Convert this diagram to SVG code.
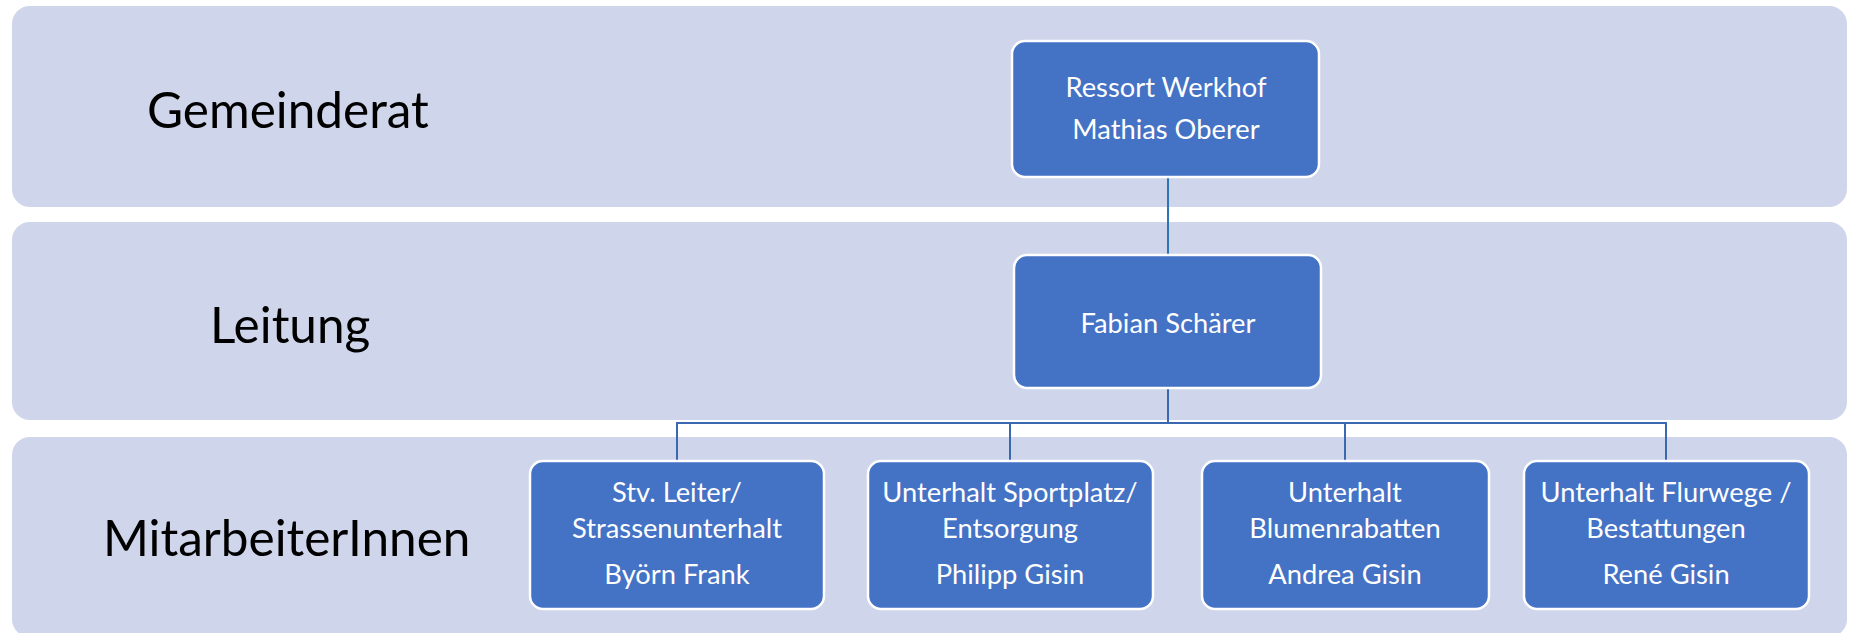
<svg xmlns="http://www.w3.org/2000/svg" width="1854" height="633" viewBox="0 0 1854 633">
<style>
.band{fill:#CFD5EA;}
.box{fill:#4472C4;stroke:#FFFFFF;stroke-width:2.5;}
.lbl{font-family:Lato,"Liberation Sans",sans-serif;font-size:49.5px;fill:#000000;}
.t{font-family:Lato,"Liberation Sans",sans-serif;font-size:27.3px;fill:#FFFFFF;text-anchor:middle;}
.c1{stroke:#2E75B6;stroke-width:2;fill:none;}
.c2{stroke:#3C67B1;stroke-width:2;fill:none;}
</style>
<rect width="1854" height="633" fill="#FFFFFF"/>
<g id="band-gemeinderat">
<rect class="band" x="12" y="6" width="1835" height="201" rx="18"/>
<text class="lbl" x="147" y="128">Gemeinderat</text>
</g>
<g id="band-leitung">
<rect class="band" x="12" y="222" width="1835" height="198" rx="18"/>
<text class="lbl" x="210" y="343">Leitung</text>
</g>
<g id="band-mitarbeiter">
<rect class="band" x="12" y="437" width="1835" height="200" rx="18"/>
<text class="lbl" x="103" y="556">MitarbeiterInnen</text>
</g>
<g id="connectors">
<line class="c1" x1="1168" y1="177" x2="1168" y2="255"/>
<polyline class="c2" points="1168,388 1168,423 677,423 677,461"/>
<polyline class="c2" points="1168,423 1666,423 1666,461"/>
<line class="c2" x1="1010" y1="423" x2="1010" y2="461"/>
<line class="c2" x1="1345" y1="423" x2="1345" y2="461"/>
</g>
<g id="node-ressort">
<rect class="box" x="1012" y="41" width="307" height="136" rx="13"/>
<text class="t" x="1166" y="97">Ressort Werkhof</text>
<text class="t" x="1166" y="139">Mathias Oberer</text>
</g>
<g id="node-leitung">
<rect class="box" x="1014" y="255" width="307" height="133" rx="13"/>
<text class="t" x="1168" y="333">Fabian Schärer</text>
</g>
<g id="node-frank">
<rect class="box" x="530" y="461" width="294" height="148" rx="13"/>
<text class="t" x="677" y="502">Stv. Leiter/</text>
<text class="t" x="677" y="538">Strassenunterhalt</text>
<text class="t" x="677" y="584">Byörn Frank</text>
</g>
<g id="node-philipp">
<rect class="box" x="868" y="461" width="285" height="148" rx="13"/>
<text class="t" x="1010" y="502">Unterhalt Sportplatz/</text>
<text class="t" x="1010" y="538">Entsorgung</text>
<text class="t" x="1010" y="584">Philipp Gisin</text>
</g>
<g id="node-andrea">
<rect class="box" x="1202" y="461" width="287" height="148" rx="13"/>
<text class="t" x="1345" y="502">Unterhalt</text>
<text class="t" x="1345" y="538">Blumenrabatten</text>
<text class="t" x="1345" y="584">Andrea Gisin</text>
</g>
<g id="node-rene">
<rect class="box" x="1524" y="461" width="285" height="148" rx="13"/>
<text class="t" x="1666" y="502">Unterhalt Flurwege /</text>
<text class="t" x="1666" y="538">Bestattungen</text>
<text class="t" x="1666" y="584">René Gisin</text>
</g>
</svg>
